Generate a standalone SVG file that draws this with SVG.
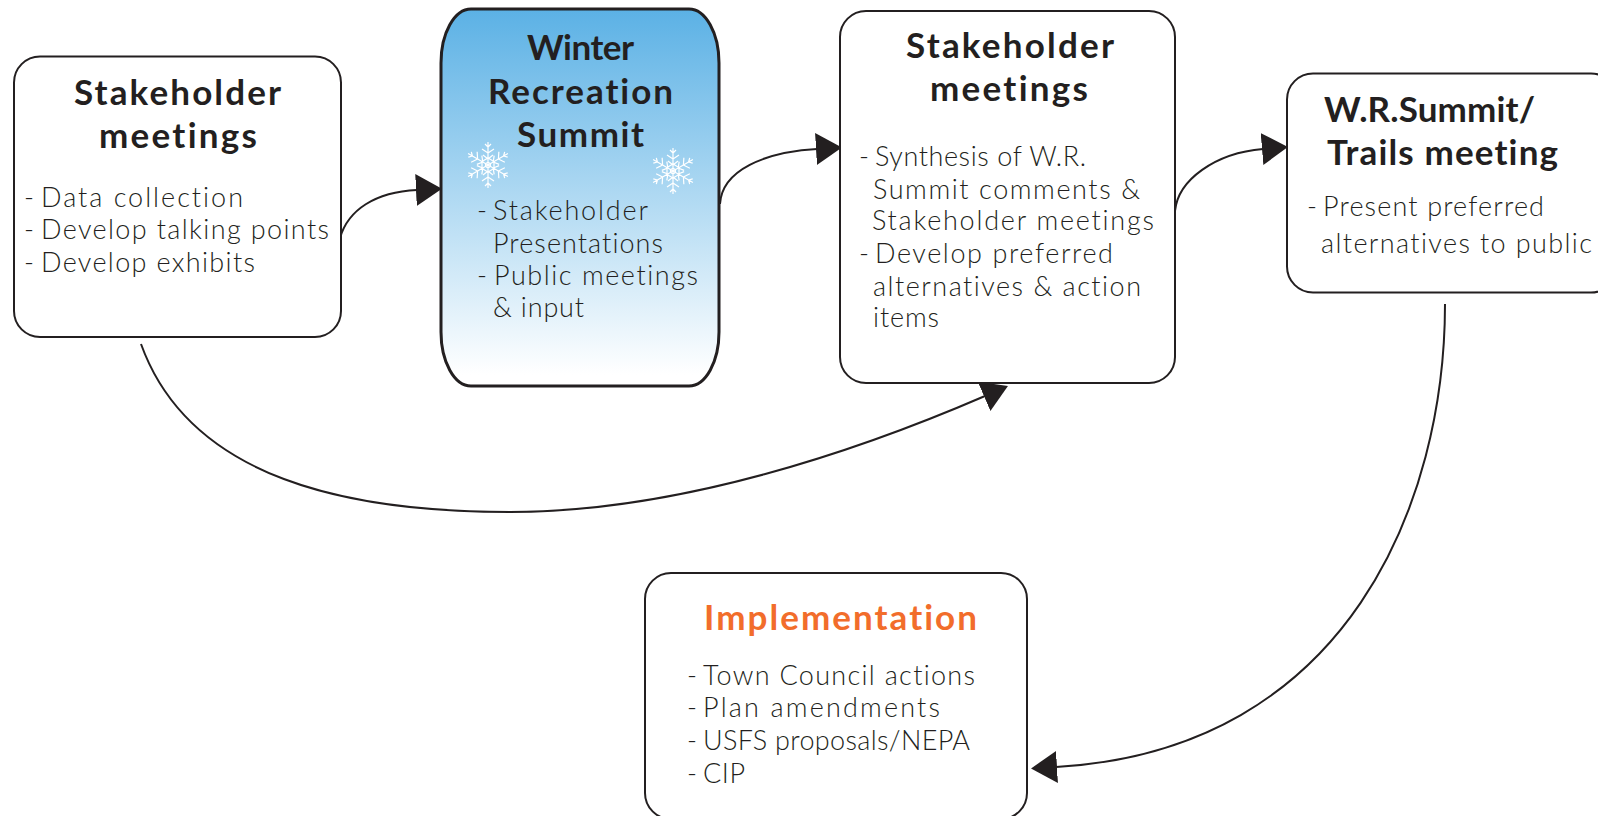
<svg xmlns="http://www.w3.org/2000/svg" xmlns:xlink="http://www.w3.org/1999/xlink" width="1598" height="816" viewBox="0 0 1598 816">
<style>
text{font-variant-ligatures:none;font-family:"Lato","Open Sans","Liberation Sans",sans-serif;fill:#231f20}
.box{fill:#fff;stroke:#231f20;stroke-width:2}
.t{font-weight:700;font-size:35px}
.b{font-weight:300;font-size:27px}
.o{fill:#f26d2b}
.c{fill:none;stroke:#231f20;stroke-width:2;marker-end:url(#arrow)}
.f{fill:none;stroke:#fff;stroke-width:1.2}
</style>
<defs>
<linearGradient id="sky" x1="0" y1="0" x2="0" y2="1"><stop offset="0" stop-color="#5bb1e5"/><stop offset="0.97" stop-color="#fff"/></linearGradient>
<marker id="arrow" markerUnits="userSpaceOnUse" markerWidth="28" markerHeight="34" refX="1" refY="16" orient="auto" viewBox="0 0 28 34"><path d="M0 0L26 16L0 32z" fill="#231f20"/></marker>
<g id="arm"><path d="M0 0V-23M0 -6L-5 -10M0 -6L5 -10M0 -12L-6 -16M0 -12L6 -16M0 -18L-3 -21M0 -18L3 -21"/></g>
<g id="flake" class="f"><use href="#arm"/><use href="#arm" transform="rotate(60)"/><use href="#arm" transform="rotate(120)"/><use href="#arm" transform="rotate(180)"/><use href="#arm" transform="rotate(240)"/><use href="#arm" transform="rotate(300)"/><circle r="2.5"/><path d="M-6 -3.500L0 -7L6 -3.500V3.500L0 7L-6 3.500z"/></g>
</defs>
<g id="connectors">
<path class="c" d="M340 238C348 210 375 192 417 190"/>
<path class="c" d="M720 204C722 170 765 152 817 149"/>
<path class="c" d="M1175 211C1178 180 1215 153 1263 149"/>
<path class="c" d="M141 344C190 480 350 512 510 512C680 512 860 450 985 396"/>
<path class="c" d="M1445 304C1445 500 1350 750 1056 767"/>
</g>
<g id="node-stakeholder-1">
<rect class="box" x="14" y="56.500" width="327" height="280.500" rx="26"/>
<text class="t" x="74" y="105" textLength="207">Stakeholder</text>
<text class="t" x="99" y="148" textLength="158">meetings</text>
<text class="b" y="207"><tspan x="24">- </tspan><tspan x="41" textLength="202">Data collection</tspan></text>
<text class="b" y="239"><tspan x="24">- </tspan><tspan x="41" textLength="288">Develop talking points</tspan></text>
<text class="b" y="272"><tspan x="24">- </tspan><tspan x="41" textLength="214">Develop exhibits</tspan></text>
</g>
<g id="node-summit">
<rect x="441" y="9" width="278" height="377" rx="30" ry="54" fill="url(#sky)" stroke="#231f20" stroke-width="3"/>
<use href="#flake" transform="translate(488 165)"/>
<use href="#flake" transform="translate(673 171)"/>
<text class="t" x="527" y="60" textLength="107">Winter</text>
<text class="t" x="488" y="104" textLength="185">Recreation</text>
<text class="t" x="517" y="147" textLength="127">Summit</text>
<text class="b" y="220"><tspan x="477">- </tspan><tspan x="493" textLength="155">Stakeholder</tspan></text>
<text class="b" x="493" y="253" textLength="170">Presentations</text>
<text class="b" y="285"><tspan x="477">- </tspan><tspan x="494" textLength="204">Public meetings</tspan></text>
<text class="b" x="493" y="317" textLength="91">&amp; input</text>
</g>
<g id="node-stakeholder-2">
<rect class="box" x="840" y="11" width="335" height="372" rx="26"/>
<text class="t" x="906" y="58" textLength="208">Stakeholder</text>
<text class="t" x="930" y="101" textLength="158">meetings</text>
<text class="b" y="166"><tspan x="859">- </tspan><tspan x="875" textLength="211">Synthesis of W.R.</tspan></text>
<text class="b" x="873" y="199" textLength="267">Summit comments &amp;</text>
<text class="b" x="872" y="230" textLength="282">Stakeholder meetings</text>
<text class="b" y="263"><tspan x="859">- </tspan><tspan x="875" textLength="238">Develop preferred</tspan></text>
<text class="b" x="873" y="296" textLength="268">alternatives &amp; action</text>
<text class="b" x="873" y="327" textLength="66">items</text>
</g>
<g id="node-trails">
<rect class="box" x="1287" y="73.500" width="330" height="219" rx="26"/>
<text class="t" x="1324" y="122" textLength="211">W.R.Summit/</text>
<text class="t" x="1327" y="165" textLength="231">Trails meeting</text>
<text class="b" y="216"><tspan x="1307">- </tspan><tspan x="1323" textLength="221">Present preferred</tspan></text>
<text class="b" x="1321" y="253" textLength="271">alternatives to public</text>
</g>
<g id="node-implementation">
<rect class="box" x="645" y="573" width="382" height="246" rx="26"/>
<text class="t o" x="704" y="630" textLength="273">Implementation</text>
<text class="b" y="685"><tspan x="687">- </tspan><tspan x="703" textLength="272">Town Council actions</tspan></text>
<text class="b" y="717"><tspan x="687">- </tspan><tspan x="703" textLength="237">Plan amendments</tspan></text>
<text class="b" y="750"><tspan x="687">- </tspan><tspan x="703" textLength="267">USFS proposals/NEPA</tspan></text>
<text class="b" y="783"><tspan x="687">- </tspan><tspan x="703" textLength="42">CIP</tspan></text>
</g>
</svg>
